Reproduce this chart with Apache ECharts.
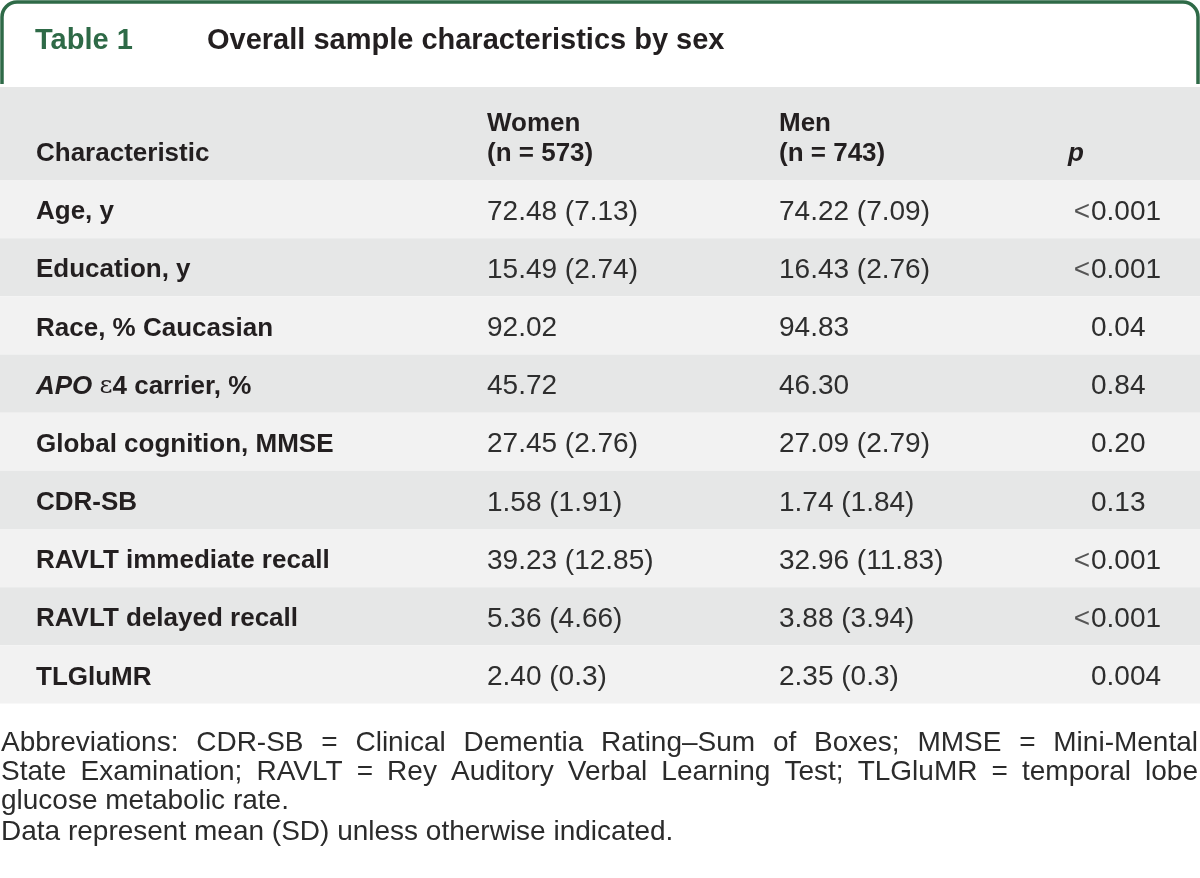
<!DOCTYPE html>
<html>
<head>
<meta charset="utf-8">
<title>Table 1 - Overall sample characteristics by sex</title>
<script src="https://cdn.jsdelivr.net/npm/echarts@6/dist/echarts.min.js"></script>
<style>
  html, body { margin: 0; padding: 0; background: #fff; }
  #chart { width: 1200px; height: 878px; }
</style>
</head>
<body>
<div id="chart"></div>
<script>
// table data
const characteristics = [
  'Age, y',
  'Education, y',
  'Race, % Caucasian',
  'APO ε4 carrier, %',
  'Global cognition, MMSE',
  'CDR-SB',
  'RAVLT immediate recall',
  'RAVLT delayed recall',
  'TLGluMR'
];
const women = ['72.48 (7.13)', '15.49 (2.74)', '92.02', '45.72', '27.45 (2.76)', '1.58 (1.91)', '39.23 (12.85)', '5.36 (4.66)', '2.40 (0.3)'];
const men = ['74.22 (7.09)', '16.43 (2.76)', '94.83', '46.30', '27.09 (2.79)', '1.74 (1.84)', '32.96 (11.83)', '3.88 (3.94)', '2.35 (0.3)'];
const pValues = ['<0.001', '<0.001', '0.04', '0.84', '0.20', '0.13', '<0.001', '<0.001', '0.004'];
const headers = ['Characteristic', 'Women\n(n = 573)', 'Men\n(n = 743)', 'p'];
const notes = [
  'Abbreviations: CDR-SB = Clinical Dementia Rating–Sum of Boxes; MMSE = Mini-Mental',
  'State Examination; RAVLT = Rey Auditory Verbal Learning Test; TLGluMR = temporal lobe',
  'glucose metabolic rate.',
  'Data represent mean (SD) unless otherwise indicated.'
];

const FONT = '"Liberation Sans", Arial, Helvetica, sans-serif';
const GREEN = '#2e6a47';
const DARK = '#231f20';
const colX = [36, 487, 779, 1091];   // column anchors on the 0..1200 x scale
const headerX = [36, 487, 779, 1068];

const chartDom = document.getElementById('chart');
const myChart = echarts.init(chartDom, null, { renderer: 'canvas' });

// measuring for the justified footnote lines
const measureCtx = document.createElement('canvas').getContext('2d');
function textWidth(str, font) {
  measureCtx.font = font;
  return measureCtx.measureText(str).width;
}

const noteSize = 28;
const noteFont = 'normal ' + noteSize + 'px ' + FONT;
const noteY = [743, 772, 801, 832];
const noteLeft = 1, noteRight = 1198;
const noteElements = [];
notes.forEach((line, li) => {
  const justify = li < 2;
  if (!justify) {
    noteElements.push({
      type: 'text', x: noteLeft, y: noteY[li],
      style: { text: line, font: noteFont, fill: '#2b2b2b', verticalAlign: 'middle', align: 'left' }
    });
    return;
  }
  const words = line.split(' ');
  const widths = words.map(w => textWidth(w, noteFont));
  const total = widths.reduce((a, b) => a + b, 0);
  const gap = (noteRight - noteLeft - total) / (words.length - 1);
  let x = noteLeft;
  words.forEach((w, k) => {
    noteElements.push({
      type: 'text', x: x, y: noteY[li],
      style: { text: w, font: noteFont, fill: '#2b2b2b', verticalAlign: 'middle', align: 'left' }
    });
    x += widths[k] + gap;
  });
});

function textSeries(name, gridIndex, x, rows, texts, label) {
  return {
    type: 'scatter',
    name: name,
    xAxisIndex: gridIndex,
    yAxisIndex: gridIndex,
    symbolSize: 0,
    silent: true,
    itemStyle: { opacity: 1 },
    emphasis: { disabled: true },
    data: rows.map(r => [x, r]),
    label: Object.assign({
      show: true,
      position: 'inside',
      align: 'left',
      verticalAlign: 'middle',
      fontFamily: FONT,
      formatter: p => texts[p.dataIndex]
    }, label)
  };
}

const bodyLabel = { fontSize: 28, color: '#2e2e2e', offset: [0, 3] };
const headerLabel = {
  fontSize: 26, fontWeight: 'bold', color: DARK,
  lineHeight: 30, verticalAlign: 'bottom', offset: [0, 35.5]
};

// tab border: two straight runs and two rounded corners
const R = 15;
const lineStyle = { stroke: GREEN, lineWidth: 3.5, fill: 'none' };
const tabBorder = [
  { type: 'polyline', silent: true, shape: { points: [[2, 84], [2, 2 + R]] }, style: lineStyle },
  { type: 'arc', silent: true, shape: { cx: 2 + R, cy: 2 + R, r: R, startAngle: Math.PI, endAngle: Math.PI * 1.5, clockwise: true }, style: lineStyle },
  { type: 'polyline', silent: true, shape: { points: [[2 + R, 2], [1198 - R, 2]] }, style: lineStyle },
  { type: 'arc', silent: true, shape: { cx: 1198 - R, cy: 2 + R, r: R, startAngle: Math.PI * 1.5, endAngle: Math.PI * 2, clockwise: true }, style: lineStyle },
  { type: 'polyline', silent: true, shape: { points: [[1198, 2 + R], [1198, 84]] }, style: lineStyle }
];

const option = {
  animation: false,
  backgroundColor: '#fff',
  grid: [
    { left: 0, right: 0, top: 87, height: 93, containLabel: false },
    { left: 0, right: 0, top: 180, height: 523.5, containLabel: false }
  ],
  xAxis: [
    { gridIndex: 0, type: 'value', min: 0, max: 1200, show: false },
    { gridIndex: 1, type: 'value', min: 0, max: 1200, show: false }
  ],
  yAxis: [
    {
      gridIndex: 0, type: 'category', data: ['header'], inverse: true,
      axisLine: { show: false }, axisTick: { show: false }, axisLabel: { show: false },
      splitLine: { show: false },
      splitArea: { show: true, areaStyle: { color: ['#e6e7e7'] } }
    },
    {
      gridIndex: 1, type: 'category', data: characteristics, inverse: true,
      axisLine: { show: false }, axisTick: { show: false }, axisLabel: { show: false },
      splitLine: { show: false },
      splitArea: { show: true, areaStyle: { color: ['#f2f2f2', '#e6e7e7'] } }
    }
  ],
  series: [
    // header row
    textSeries('hCharacteristic', 0, headerX[0], ['header'], [headers[0]], headerLabel),
    textSeries('hWomen', 0, headerX[1], ['header'], [headers[1]], headerLabel),
    textSeries('hMen', 0, headerX[2], ['header'], [headers[2]], headerLabel),
    textSeries('hP', 0, headerX[3], ['header'], [headers[3]],
      Object.assign({}, headerLabel, { fontStyle: 'italic' })),
    // body rows
    textSeries('Characteristic', 1, colX[0], characteristics,
      characteristics.map(c => c.indexOf('APO') === 0 ? '{i|APO} {e|ε}4 carrier, %' : c),
      {
        fontSize: 26, fontWeight: 'bold', color: DARK, offset: [0, 3],
        rich: {
          i: { fontSize: 26, fontWeight: 'bold', fontStyle: 'italic', color: DARK, fontFamily: FONT },
          e: { fontSize: 25, fontWeight: 'normal', color: DARK, fontFamily: '"DejaVu Serif", serif' }
        }
      }),
    textSeries('Women', 1, colX[1], characteristics, women, bodyLabel),
    textSeries('Men', 1, colX[2], characteristics, men, bodyLabel),
    textSeries('pSign', 1, colX[3], characteristics,
      pValues.map(v => v.charAt(0) === '<' ? '<' : ''),
      Object.assign({}, bodyLabel, { align: 'right', color: '#555', offset: [-1, 3] })),
    textSeries('p', 1, colX[3], characteristics,
      pValues.map(v => v.replace('<', '')), bodyLabel)
  ],
  graphic: tabBorder.concat([
    {
      type: 'text', x: 35, y: 41,
      style: { text: 'Table 1', font: 'bold 29px ' + FONT, fill: GREEN, verticalAlign: 'middle' }
    },
    {
      type: 'text', x: 207, y: 41,
      style: { text: 'Overall sample characteristics by sex', font: 'bold 29px ' + FONT, fill: DARK, verticalAlign: 'middle' }
    },
    { type: 'group', children: noteElements, silent: true }
  ])
};

option && myChart.setOption(option);
</script>
</body>
</html>
